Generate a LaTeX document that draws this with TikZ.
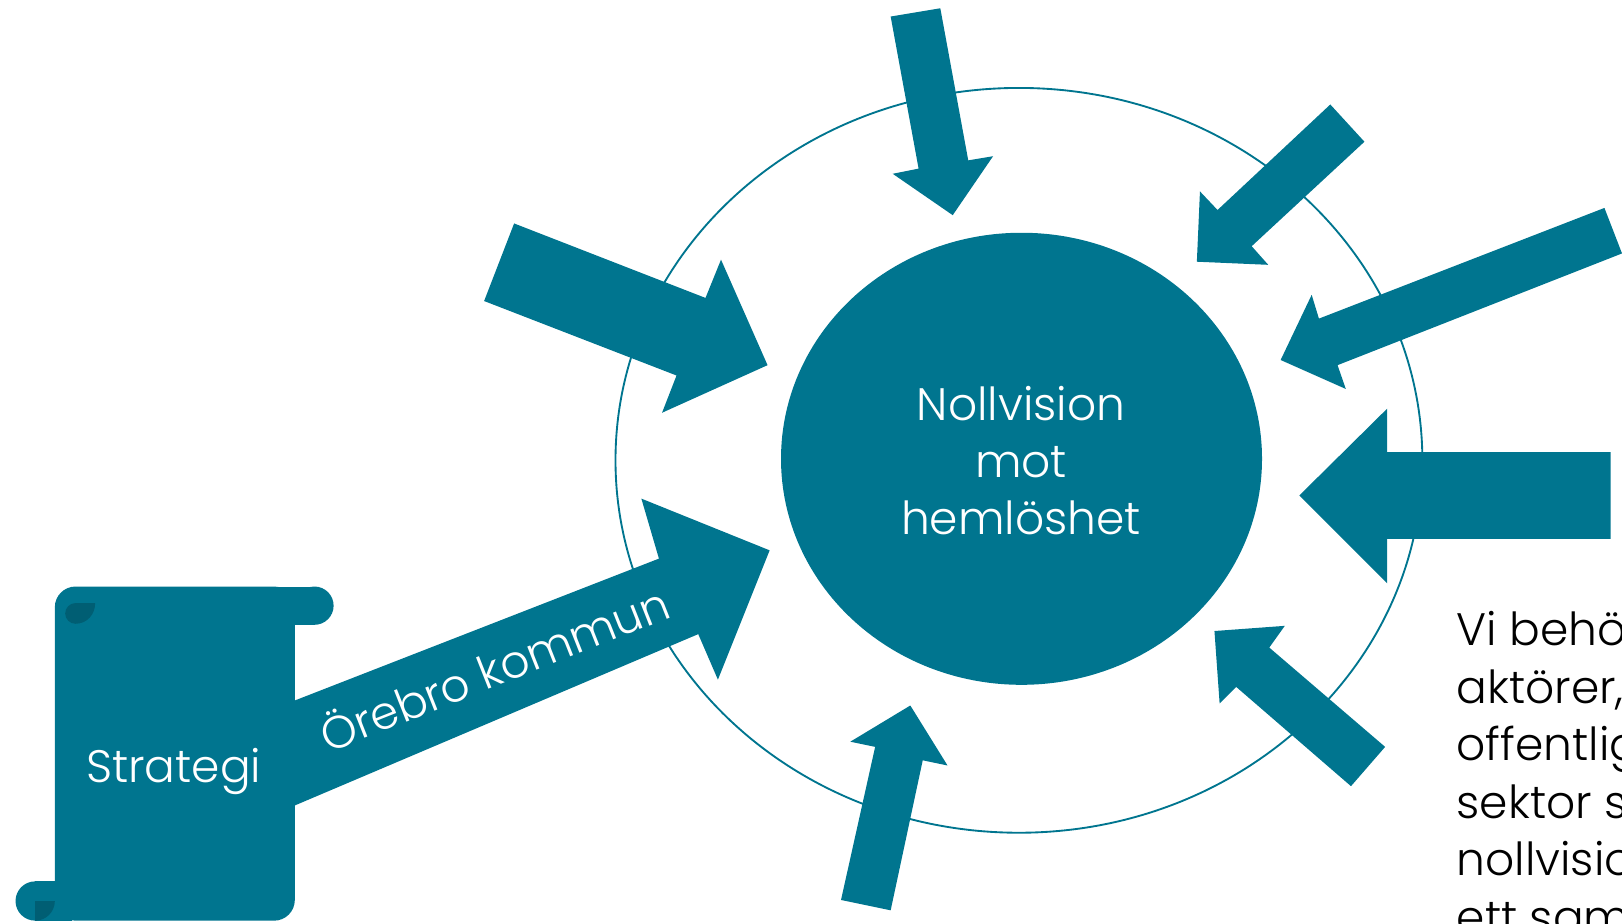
\documentclass[tikz,border=0pt]{standalone}
\usepackage{fontspec}
\usetikzlibrary{shapes.geometric}
\setmainfont{Poppins Light}
\definecolor{teal1}{HTML}{00758F}
\definecolor{teal2}{HTML}{005E73}
\begin{document}
\begin{tikzpicture}[x=1pt,y=-1pt,
  blockfill/.style={fill=teal1, draw=none},
  curlfill/.style={fill=teal2, draw=none},
  whitetext/.style={text=white, inner sep=0pt, font=\fontsize{44}{55}\selectfont},
  blacktext/.style={text=black, inner sep=0pt, font=\fontsize{44}{55.6}\selectfont}]
\useasboundingbox (0,0) rectangle (1568,892.3);
% outer ring
\draw[teal1, line width=1.8pt] (985,445) ellipse [x radius=390, y radius=360];
% arrows
\fill[blockfill] (861,16) -- (909,8) -- (936,155) -- (960,151) -- (921,208) -- (863,168) -- (888,163) -- cycle;
\fill[blockfill] (1286,101) -- (1319,137) -- (1210,238) -- (1226,256) -- (1157,253) -- (1160,185) -- (1177,203) -- cycle;
\fill[blockfill] (1551,201) -- (1568,245) -- (1293,353) -- (1301,376) -- (1238,348) -- (1268,285) -- (1275,308) -- cycle;
\fill[blockfill] (1557,437) -- (1557,521) -- (1341,521) -- (1341,564) -- (1256,479) -- (1341,395) -- (1341,437) -- cycle;
\fill[blockfill] (1339,722) -- (1306,760) -- (1195,664) -- (1179,680) -- (1174,610) -- (1242,605) -- (1227,626) -- cycle;
\fill[blockfill] (861,880) -- (813,870) -- (846,722) -- (822,717) -- (880,682) -- (916,740) -- (892,735) -- cycle;
\fill[blockfill] (497,216) -- (682,288) -- (697,251) -- (742,353) -- (640,399) -- (654,363) -- (468,291) -- cycle;
\fill[blockfill] (270,683) -- (637,540) -- (620,482) -- (744,532) -- (694,657) -- (675,613) -- (270,785) -- cycle;
% scroll
\fill[blockfill, rounded corners=20pt] (53,567) rectangle (285,890);
\fill[blockfill] (72,567) rectangle (304,604);
\fill[blockfill] (304,585.5) circle [radius=18.5];
\fill[blockfill] (34,852) rectangle (70,890);
\fill[blockfill] (34,871) circle [radius=19];
\fill[curlfill] (92,583) -- (73,583) .. controls (67.5,583) and (63,587.5) .. (63,593)
  .. controls (63,598.5) and (67.5,603) .. (73,603) .. controls (84,603) and (92,594) .. (92,583) -- cycle;
\fill[curlfill] (34,871) -- (53,871) .. controls (53,881.5) and (44.5,890) .. (34,890) -- cycle;
% centre
\node[ellipse, fill=teal1, minimum width=465pt, minimum height=437pt, inner sep=0pt] (core) at (987.5,443.5) {};
\node[whitetext, align=center] (vision) at (987,445) {Nollvision\\mot\\hemlöshet};
\node[whitetext, anchor=base] (strategi) at (168,756) {Strategi};
\node[whitetext, anchor=base, rotate=21.6] (orebro) at (484,662) {Örebro kommun};
\node[blacktext, anchor=base west, align=left] (note) at (1408,902) {Vi behöver\\aktörer,\\offentlig\\sektor som\\nollvision\\ett samarbete};
\end{tikzpicture}
\end{document}
